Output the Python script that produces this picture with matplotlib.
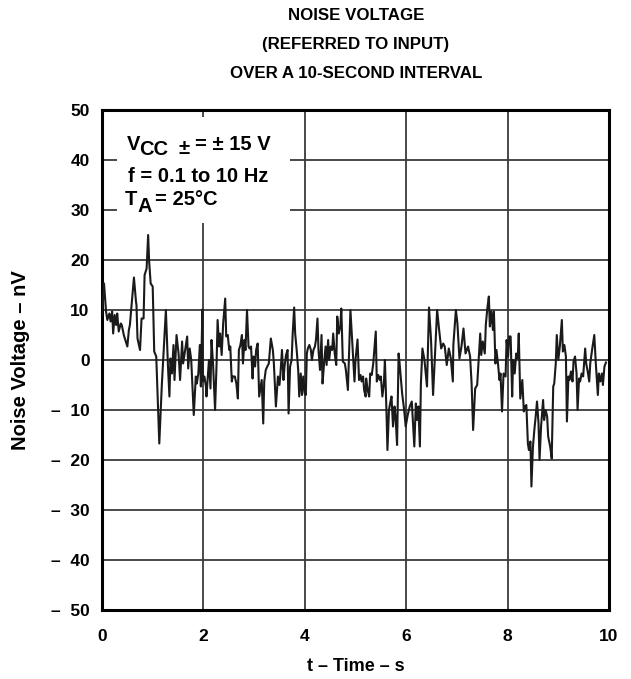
import matplotlib
matplotlib.use("Agg")
import matplotlib.pyplot as plt
from matplotlib.patches import Rectangle

plt.rcParams["font.family"] = ["Liberation Sans", "DejaVu Sans"]

# Noise trace (time in s, voltage in nV)
time_s = [
    0.00, 0.04, 0.08, 0.105, 0.145, 0.17, 0.20, 0.22, 0.25, 0.28, 0.30, 0.33, 0.37, 0.39,
    0.43, 0.50, 0.53, 0.55, 0.59, 0.63, 0.67, 0.68, 0.70, 0.75, 0.78, 0.82, 0.84, 0.88,
    0.91, 0.93, 0.96, 1.00, 1.03, 1.07, 1.13, 1.18, 1.26, 1.30, 1.33, 1.35, 1.38, 1.41,
    1.43, 1.47, 1.51, 1.54, 1.58, 1.60, 1.65, 1.68, 1.70, 1.73, 1.76, 1.81, 1.85, 1.87,
    1.90, 1.93, 1.95, 1.98, 1.99, 2.02, 2.05, 2.06, 2.08, 2.11, 2.14, 2.16, 2.19, 2.23,
    2.26, 2.28, 2.31, 2.33, 2.36, 2.39, 2.43, 2.45, 2.48, 2.51, 2.53, 2.56, 2.58, 2.62,
    2.65, 2.68, 2.70, 2.73, 2.76, 2.78, 2.81, 2.83, 2.86, 2.89, 2.91, 2.94, 2.97, 2.99,
    3.02, 3.04, 3.07, 3.10, 3.12, 3.15, 3.18, 3.20, 3.23, 3.26, 3.29, 3.33, 3.37, 3.39,
    3.43, 3.47, 3.50, 3.52, 3.55, 3.58, 3.60, 3.63, 3.66, 3.68, 3.71, 3.74, 3.76, 3.79,
    3.81, 3.84, 3.87, 3.89, 3.92, 3.945, 3.97, 4.00, 4.02, 4.04, 4.06, 4.09, 4.12, 4.14,
    4.17, 4.20, 4.22, 4.25, 4.27, 4.30, 4.33, 4.35, 4.38, 4.41, 4.43, 4.46, 4.48, 4.51,
    4.54, 4.56, 4.59, 4.62, 4.64, 4.67, 4.70, 4.72, 4.75, 4.79, 4.81, 4.85, 4.90, 4.98,
    5.00, 5.04, 5.07, 5.10, 5.12, 5.15, 5.17, 5.20, 5.21, 5.24, 5.27, 5.29, 5.32, 5.35,
    5.40, 5.42, 5.45, 5.48, 5.50, 5.53, 5.56, 5.58, 5.61, 5.63, 5.66, 5.69, 5.71, 5.74,
    5.77, 5.79, 5.82, 5.85, 5.87, 5.90, 5.92, 5.96, 5.99, 6.03, 6.07, 6.11, 6.13, 6.16,
    6.19, 6.21, 6.24, 6.27, 6.29, 6.32, 6.36, 6.41, 6.45, 6.49, 6.53, 6.61, 6.65, 6.69,
    6.73, 6.76, 6.80, 6.84, 6.88, 6.92, 6.93, 6.98, 7.01, 7.05, 7.09, 7.13, 7.17, 7.22,
    7.26, 7.29, 7.32, 7.36, 7.40, 7.46, 7.48, 7.51, 7.55, 7.57, 7.60, 7.63, 7.65, 7.68,
    7.71, 7.73, 7.76, 7.78, 7.81, 7.84, 7.86, 7.89, 7.92, 7.96, 7.98, 8.01, 8.03, 8.06,
    8.09, 8.11, 8.14, 8.17, 8.20, 8.22, 8.25, 8.29, 8.32, 8.34, 8.37, 8.40, 8.42, 8.45,
    8.47, 8.50, 8.53, 8.55, 8.58, 8.61, 8.63, 8.66, 8.70, 8.72, 8.75, 8.78, 8.80, 8.84,
    8.87, 8.90, 8.92, 8.95, 8.97, 9.00, 9.03, 9.07, 9.09, 9.12, 9.15, 9.17, 9.20, 9.22,
    9.25, 9.28, 9.30, 9.33, 9.36, 9.38, 9.41, 9.43, 9.46, 9.49, 9.53, 9.55, 9.58, 9.61,
    9.63, 9.67, 9.71, 9.74, 9.78, 9.80, 9.83, 9.86, 9.88, 9.91, 9.94,
]
noise_nv = [
    9.0, 15.3, 9.7, 8.0, 9.3, 7.7, 9.7, 5.3, 9.0, 7.0, 9.3, 5.7, 7.3, 7.0,
    5.0, 2.7, 6.0, 7.0, 11.7, 16.5, 11.7, 11.0, 4.3, 2.0, 8.3, 8.3, 17.0, 18.3,
    25.0, 19.7, 15.3, 14.7, 1.7, 0.7, -16.7, -5.0, 10.0, -1.0, -7.3, 0.3, -2.7, 3.0,
    -4.0, 5.0, 1.3, -4.0, 3.7, -0.7, 2.7, 4.7, -1.7, 2.3, 0.0, -11.0, -3.3, -4.7,
    -2.7, 3.0, -5.3, 10.1, -4.3, -3.3, -5.3, -7.3, -4.3, 0.0, -5.7, 4.0, -0.7, -10.0,
    -0.7, 8.0, 2.7, 5.3, 1.0, 7.3, 12.3, 4.7, 5.0, 2.0, 2.7, -4.3, -3.3, -3.3,
    -4.7, -7.7, 2.0, 3.0, 5.0, -0.7, 4.0, 2.0, 10.0, 2.7, 2.3, 2.7, -3.7, 0.7,
    -1.3, 2.0, 3.3, -7.3, -6.0, -4.0, -12.7, -4.3, -2.0, -1.3, -0.7, 4.3, 2.0, -0.7,
    -9.3, -3.3, -5.0, -2.7, 2.0, -4.0, -1.3, 1.0, 2.0, -10.7, -1.3, 0.0, 5.0, 10.5,
    5.3, 2.0, -2.0, -7.3, -2.7, -7.0, -3.3, -6.7, -7.0, 1.3, 2.3, 3.0, 2.0, 0.0,
    2.0, 2.7, 4.0, 8.3, 2.0, -2.0, 5.0, -4.7, -0.7, 2.7, -1.0, 4.0, 0.0, 2.7,
    2.0, 5.3, 1.3, -1.0, 8.7, 5.3, 6.7, 10.3, -0.3, -0.7, -2.0, -6.0, 10.0, -4.3,
    0.0, 4.1, -4.0, -3.0, -4.3, -3.3, -6.0, -7.3, -3.7, -6.0, -7.3, -2.7, -3.0, -0.7,
    5.7, -4.3, -3.0, -4.0, -3.3, -7.3, -4.7, 0.0, -10.0, -18.0, -10.0, -8.3, -7.3, -13.3,
    -9.3, -11.3, -17.0, 1.3, -0.7, -4.3, -6.7, -10.0, -13.3, -11.0, -9.3, -8.3, -12.0, -17.3,
    -8.7, -12.0, -9.3, -17.3, -4.7, 2.3, 0.0, -5.3, 10.5, 4.0, -7.0, 10.0, 6.0, 2.3,
    3.3, 2.7, -1.0, 2.3, 0.3, -4.3, 3.0, 10.0, 7.3, 0.3, 2.7, 6.3, 1.3, 2.7,
    0.7, -4.7, -14.0, -5.7, -5.0, 5.3, 1.0, 3.7, 1.3, 7.0, 10.3, 12.7, 6.7, 9.7,
    6.0, 9.7, -0.7, 2.0, -0.7, -4.0, -2.7, -10.3, -2.7, -3.3, 4.0, 0.7, 4.7, 4.7,
    -7.3, 0.0, -2.7, 1.3, 0.3, 5.3, -7.7, -4.0, -10.3, -9.3, -9.0, -16.7, -18.0, -16.3,
    -25.3, -17.3, -13.7, -11.7, -8.3, -12.7, -20.0, -13.3, -8.0, -12.0, -10.0, -11.3, -15.3, -17.3,
    -19.7, -5.3, -4.7, -0.7, 5.0, 0.0, 2.7, 8.0, 1.7, 3.0, 0.7, -12.3, -3.3, -4.0,
    -2.3, -4.3, -0.3, 0.7, -2.7, -10.0, -3.7, -4.3, -2.7, -3.3, 2.3, -0.7, -2.3, -4.3,
    -0.7, 2.3, 5.0, -0.7, -7.0, -2.7, -4.3, -2.7, -5.0, -1.3, -0.5,
]

x_ticks = [0, 2, 4, 6, 8, 10]
y_ticks = [-50, -40, -30, -20, -10, 0, 10, 20, 30, 40, 50]
y_tick_labels = ["\u2013  50", "\u2013  40", "\u2013  30", "\u2013  20", "\u2013  10",
                 "0", "10", "20", "30", "40", "50"]

fig = plt.figure(figsize=(6.31, 6.79), dpi=100)
ax = fig.add_axes([102 / 631, 1 - 610 / 679, 507 / 631, 500 / 679])

ax.plot(time_s, noise_nv, color="#1a1a1a", linewidth=1.5, zorder=3)

ax.set_xlim(0, 10)
ax.set_ylim(-50, 50)
ax.set_xticks(x_ticks)
ax.set_yticks(y_ticks)
ax.set_xticklabels([str(t) for t in x_ticks], fontsize=12.5, fontweight="bold")
ax.set_yticklabels(y_tick_labels, fontsize=12.5, fontweight="bold")
ax.tick_params(axis="x", length=0, pad=14)
ax.tick_params(axis="y", length=0, pad=9)
ax.grid(True, color="#3a3a3a", linewidth=1.3, zorder=1)
ax.set_axisbelow(True)
for s in ax.spines.values():
    s.set_linewidth(2.2)
    s.set_color("black")

# white info box over the grid in the upper-left corner
ax.add_patch(Rectangle((0.3, 27.5), 3.4, 21.1, facecolor="white", edgecolor="none", zorder=2))
box_kw = dict(fontsize=14.5, fontweight="bold", va="baseline", ha="left", zorder=4)
ax.text(0.49, 41.9, "V", **box_kw)
ax.text(0.74, 41.0, "CC", **box_kw)
ax.text(1.51, 41.3, "\u00b1", **box_kw)
ax.text(1.84, 41.9, "= \u00b1 15 V", **box_kw)
ax.text(0.52, 35.5, "f = 0.1 to 10 Hz", **box_kw)
ax.text(0.45, 31.0, "T", **box_kw)
ax.text(0.70, 29.7, "A", **box_kw)
ax.text(1.05, 31.0, "= 25\u00b0C", **box_kw)

ax.set_xlabel("t \u2013 Time \u2013 s", fontsize=13, fontweight="bold", labelpad=10)
ax.set_ylabel("Noise Voltage \u2013 nV", fontsize=14.5, fontweight="bold", labelpad=15)

fig.text(356 / 631, 1 - 15 / 679, "NOISE VOLTAGE", fontsize=12.2, fontweight="bold",
         ha="center", va="center")
fig.text(356 / 631, 1 - 44 / 679, "(REFERRED TO INPUT)", fontsize=12.2, fontweight="bold",
         ha="center", va="center")
fig.text(356 / 631, 1 - 73 / 679, "OVER A 10-SECOND INTERVAL", fontsize=12.2, fontweight="bold",
         ha="center", va="center")

fig.savefig("out.png", dpi=100)
